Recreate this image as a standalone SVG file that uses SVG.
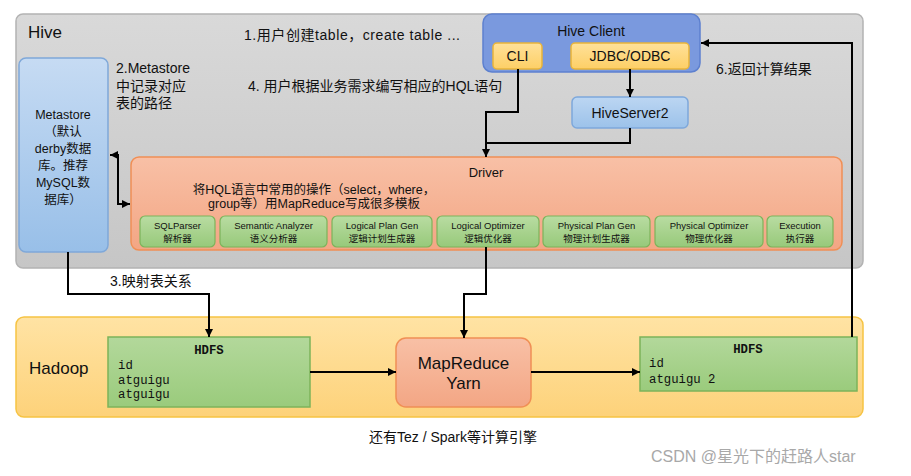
<svg xmlns="http://www.w3.org/2000/svg" width="911" height="476" viewBox="0 0 911 476">
<defs>
<linearGradient id="gHive" x1="0" y1="0" x2="0" y2="1"><stop offset="0" stop-color="#d9d9d9"/><stop offset="1" stop-color="#c6c6c6"/></linearGradient>
<linearGradient id="gMeta" x1="0" y1="0" x2="0" y2="1"><stop offset="0" stop-color="#c6dbf3"/><stop offset="1" stop-color="#98bfe8"/></linearGradient>
<linearGradient id="gDrv" x1="0" y1="0" x2="0" y2="1"><stop offset="0" stop-color="#f8c0a6"/><stop offset="1" stop-color="#f3a684"/></linearGradient>
<linearGradient id="gGreen" x1="0" y1="0" x2="0" y2="1"><stop offset="0" stop-color="#b9dca2"/><stop offset="1" stop-color="#97c97a"/></linearGradient>
<linearGradient id="gHdfs" x1="0" y1="0" x2="0" y2="1"><stop offset="0" stop-color="#b3d89b"/><stop offset="1" stop-color="#9acb7c"/></linearGradient>
<linearGradient id="gHad" x1="0" y1="0" x2="0" y2="1"><stop offset="0" stop-color="#ffe3a4"/><stop offset="1" stop-color="#fdd27a"/></linearGradient>
<linearGradient id="gYel" x1="0" y1="0" x2="0" y2="1"><stop offset="0" stop-color="#ffe199"/><stop offset="1" stop-color="#fdcf66"/></linearGradient>
<linearGradient id="gHs2" x1="0" y1="0" x2="0" y2="1"><stop offset="0" stop-color="#bcd6f2"/><stop offset="1" stop-color="#9cc2ea"/></linearGradient>
<marker id="arr" viewBox="0 0 10 10" refX="10" refY="5" markerWidth="8" markerHeight="8" markerUnits="userSpaceOnUse" orient="auto-start-reverse"><path d="M0,0 L10,5 L0,10 z" fill="#000"/></marker>
<style>
text{font-family:"Liberation Sans","Noto Sans CJK SC",sans-serif;fill:#111}
.lbl{font-size:14px}
.big{font-size:17px}
.sm{font-size:9.5px;text-anchor:middle}
.mono{font-family:"Liberation Mono","Noto Sans CJK SC",monospace;font-size:12.3px}
.c{text-anchor:middle}
.ln{fill:none;stroke:#000;stroke-width:2}
.sub{fill:url(#gGreen);stroke:#7cb35a;stroke-width:1.2}
</style>
</defs>

<g id="hive">
<rect x="16" y="14" width="847" height="254" rx="7" fill="url(#gHive)" stroke="#b3b3b3" stroke-width="1.5"/>
<text x="28" y="38" class="big">Hive</text>
</g>

<g id="hadoop">
<rect x="16" y="317" width="847" height="100" rx="8" fill="url(#gHad)" stroke="#f6c343" stroke-width="1.5"/>
<text x="29" y="374" class="big">Hadoop</text>
</g>

<g id="hive-client">
<rect x="483" y="14" width="217" height="58" rx="9" fill="#7a99de" stroke="#5d80cf" stroke-width="1.5"/>
<text x="591" y="36" class="lbl c">Hive Client</text>
</g>
<g id="cli">
<rect x="493" y="43" width="49" height="26" rx="4" fill="url(#gYel)" stroke="#e9b43a" stroke-width="1.5"/>
<text x="517.5" y="61" class="lbl c">CLI</text>
</g>
<g id="jdbc">
<rect x="571" y="43" width="118" height="26" rx="4" fill="url(#gYel)" stroke="#e9b43a" stroke-width="1.5"/>
<text x="630" y="61" class="lbl c">JDBC/ODBC</text>
</g>
<g id="hiveserver2">
<rect x="572" y="97" width="116" height="31" rx="5" fill="url(#gHs2)" stroke="#7ea8db" stroke-width="1.5"/>
<text x="630" y="118" class="lbl c">HiveServer2</text>
</g>

<g id="metastore">
<rect x="19" y="58" width="89" height="194" rx="7" fill="url(#gMeta)" stroke="#7fa8d9" stroke-width="1.5"/>
<text class="c" font-size="12.5"><tspan x="63" y="119">Metastore</tspan><tspan x="63" y="136">（默认</tspan><tspan x="63" y="153">derby数据</tspan><tspan x="63" y="170">库。推荐</tspan><tspan x="63" y="187">MySQL数</tspan><tspan x="63" y="204">据库）</tspan></text>
</g>

<g id="driver">
<rect x="131" y="157" width="711" height="93" rx="8" fill="url(#gDrv)" stroke="#f08f55" stroke-width="1.5"/>
<text x="486" y="177" class="c" font-size="13">Driver</text>
<text class="c" font-size="12.5"><tspan x="314" y="194">将HQL语言中常用的操作（select，where，</tspan><tspan x="314" y="208">group等）用MapReduce写成很多模板</tspan></text>
</g>
<g id="sqlparser"><rect x="140" y="216" width="75" height="31" rx="5" class="sub"/><text class="sm"><tspan x="177.5" y="229">SQLParser</tspan><tspan x="177.5" y="242">解析器</tspan></text></g>
<g id="semantic"><rect x="220" y="216" width="107" height="31" rx="5" class="sub"/><text class="sm"><tspan x="273.5" y="229">Semantic Analyzer</tspan><tspan x="273.5" y="242">语义分析器</tspan></text></g>
<g id="logicalplan"><rect x="332" y="216" width="100" height="31" rx="5" class="sub"/><text class="sm"><tspan x="382" y="229">Logical Plan Gen</tspan><tspan x="382" y="242">逻辑计划生成器</tspan></text></g>
<g id="logicalopt"><rect x="437" y="216" width="102" height="31" rx="5" class="sub"/><text class="sm"><tspan x="488" y="229">Logical Optimizer</tspan><tspan x="488" y="242">逻辑优化器</tspan></text></g>
<g id="physicalplan"><rect x="543" y="216" width="107" height="31" rx="5" class="sub"/><text class="sm"><tspan x="596.5" y="229">Physical Plan Gen</tspan><tspan x="596.5" y="242">物理计划生成器</tspan></text></g>
<g id="physicalopt"><rect x="655" y="216" width="108" height="31" rx="5" class="sub"/><text class="sm"><tspan x="709" y="229">Physical Optimizer</tspan><tspan x="709" y="242">物理优化器</tspan></text></g>
<g id="execution"><rect x="767" y="216" width="66" height="31" rx="5" class="sub"/><text class="sm"><tspan x="800" y="229">Execution</tspan><tspan x="800" y="242">执行器</tspan></text></g>

<g id="hdfs1">
<rect x="108" y="337" width="202" height="70" fill="url(#gHdfs)" stroke="#7cb35a" stroke-width="1.5"/>
<text x="209" y="354" class="mono c" font-weight="bold">HDFS</text>
<text class="mono"><tspan x="118" y="369">id</tspan><tspan x="118" y="384">atguigu</tspan><tspan x="118" y="398">atguigu</tspan></text>
</g>
<g id="mapreduce">
<rect x="396" y="338" width="135" height="69" rx="10" fill="url(#gDrv)" stroke="#f08f55" stroke-width="1.5"/>
<text class="c big"><tspan x="463.5" y="369">MapReduce</tspan><tspan x="463.5" y="389">Yarn</tspan></text>
</g>
<g id="hdfs2">
<rect x="640" y="337" width="217" height="54" fill="url(#gHdfs)" stroke="#7cb35a" stroke-width="1.5"/>
<text x="748" y="353" class="mono c" font-weight="bold">HDFS</text>
<text class="mono"><tspan x="649" y="367">id</tspan><tspan x="649" y="383">atguigu 2</tspan></text>
</g>

<g id="connectors">
<path class="ln" d="M110,155 H118 V204 H130" marker-start="url(#arr)" marker-end="url(#arr)"/>
<path class="ln" d="M518,69 V112 H486 V157" marker-end="url(#arr)"/>
<path class="ln" d="M630,69 V97" marker-end="url(#arr)"/>
<path class="ln" d="M630,128 V143 H486"/>
<path class="ln" d="M852,337 V43 H701" marker-end="url(#arr)"/>
<path class="ln" d="M68,252 V294 H209 V337" marker-end="url(#arr)"/>
<path class="ln" d="M486,247 V294 H464 V338" marker-end="url(#arr)"/>
<path class="ln" d="M310,372 H396" marker-end="url(#arr)"/>
<path class="ln" d="M531,372 H640" marker-end="url(#arr)"/>
</g>

<g id="labels">
<text x="244" y="40" class="lbl" textLength="216" lengthAdjust="spacing">1.用户创建table，create table ...</text>
<text class="lbl"><tspan x="116" y="73">2.Metastore</tspan><tspan x="116" y="91">中记录对应</tspan><tspan x="116" y="108">表的路径</tspan></text>
<text x="248" y="91" class="lbl">4. 用户根据业务需求编写相应的HQL语句</text>
<text x="716" y="74" class="lbl">6.返回计算结果</text>
<text x="110" y="286" class="lbl">3.映射表关系</text>
<text x="369" y="442" class="lbl">还有Tez / Spark等计算引擎</text>
<text x="651" y="462" font-size="16" style="fill:#a8a8a8">CSDN @星光下的赶路人star</text>
</g>
</svg>
